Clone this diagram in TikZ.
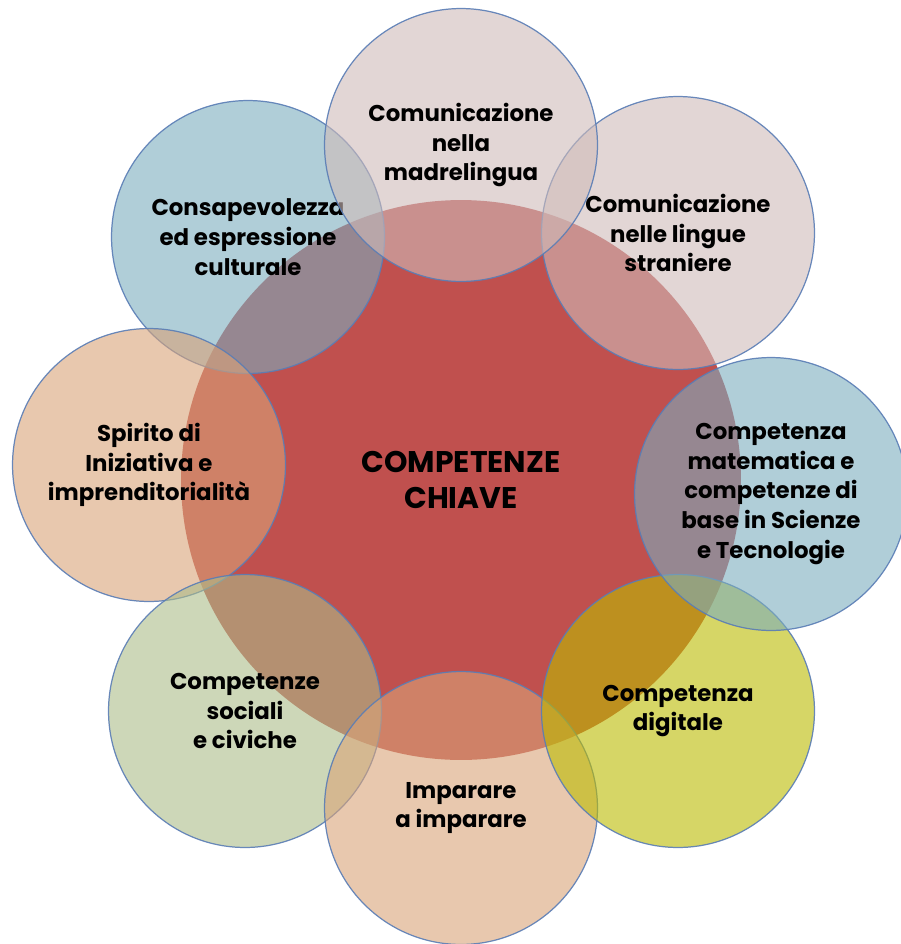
\documentclass[tikz,border=0pt]{standalone}
\usepackage{fontspec}
\setmainfont{Poppins}
\usepackage{tikz}

\definecolor{rosso}{HTML}{C0504E}
\definecolor{rosa}{HTML}{CFBBB9}
\definecolor{blu}{HTML}{7BADBE}
\definecolor{pesca}{HTML}{D9A378}
\definecolor{verde}{HTML}{ACBC89}
\definecolor{giallo}{HTML}{BBBB00}
\definecolor{bordo}{HTML}{5A7DB5}

\begin{document}
\begin{tikzpicture}[x=0.02cm,y=-0.02cm,
    bolla/.style={circle,draw=bordo,line width=0.7pt,minimum size=5.46cm,inner sep=0pt,
        fill opacity=0.6,draw opacity=0.9,text opacity=1,align=center,
        font=\fontsize{13}{17}\selectfont\bfseries}]
    \useasboundingbox (0,0) rectangle (901,944);
    \node[circle,fill=rosso,minimum size=11.2cm,inner sep=0pt,align=center,
        font=\fontsize{17}{20}\selectfont\bfseries] (chiave) at (461,480) {COMPETENZE\\CHIAVE};
    \node[bolla,fill=blu] (cultura) at (248,237) {Consapevolezza\\ed espressione\\culturale};
    \node[bolla,fill=pesca] (spirito) at (149,465) {Spirito di\\Iniziativa e\\imprenditorialità};
    \node[bolla,fill=verde] (sociali) at (245,711) {Competenze\\sociali\\e civiche};
    \node[bolla,fill=pesca] (imparare) at (461,808) {Imparare\\a imparare};
    \node[bolla,fill=giallo] (digitale) at (678,711) {Competenza\\digitale};
    \node[bolla,fill=blu] (matematica) at (771,494) {Competenza\\matematica e\\competenze di\\base in Scienze\\e Tecnologie};
    \node[bolla,fill=rosa] (lingue) at (678,233) {Comunicazione\\nelle lingue\\straniere};
    \node[bolla,fill=rosa] (madre) at (461,145) {Comunicazione\\nella\\madrelingua};
\end{tikzpicture}
\end{document}
